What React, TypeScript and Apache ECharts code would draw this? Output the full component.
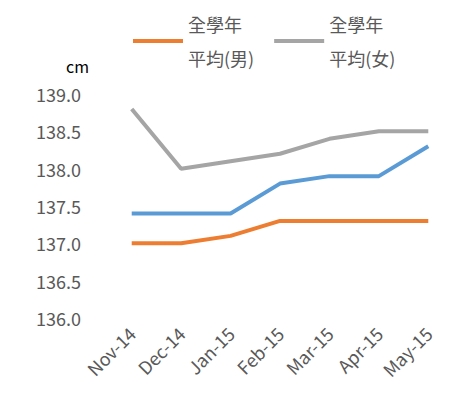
import React, { useEffect, useRef } from "react";
import * as echarts from "echarts";

const categories = ["Nov-14", "Dec-14", "Jan-15", "Feb-15", "Mar-15", "Apr-15", "May-15"];
const boys = [137.0, 137.0, 137.1, 137.3, 137.3, 137.3, 137.3];
const girls = [138.8, 138.0, 138.1, 138.2, 138.4, 138.5, 138.5];
const blue = [137.4, 137.4, 137.4, 137.8, 137.9, 137.9, 138.3];

const font = "'Noto Sans CJK TC', 'Noto Sans', sans-serif";

const App: React.FC = () => {
  const chartRef = useRef<HTMLDivElement>(null);

  useEffect(() => {
    if (!chartRef.current) return;
    const chart = echarts.init(chartRef.current, undefined, { renderer: "svg" });
    chart.setOption({
      animation: false,
      textStyle: { fontFamily: font },
      legend: {
        top: 2,
        left: 128,
        itemWidth: 50,
        itemHeight: 4,
        itemGap: 20,
        icon: "rect",
        data: ["全學年\n平均(男)", "全學年\n平均(女)"],
        textStyle: { fontSize: 18, color: "#595959", lineHeight: 34, fontFamily: font },
      },
      grid: { left: 107, right: 19, top: 94, bottom: 98 },
      xAxis: {
        type: "category",
        data: categories,
        axisLine: { show: false },
        axisTick: { show: false },
        axisLabel: { rotate: 45, fontSize: 18, color: "#595959", margin: 12 },
      },
      yAxis: {
        type: "value",
        name: "cm",
        nameLocation: "end",
        nameGap: 20,
        nameTextStyle: { fontSize: 16, color: "#000", align: "right", padding: [0, 18, 0, 0] },
        min: 136,
        max: 139,
        interval: 0.5,
        splitLine: { show: false },
        axisLabel: { fontSize: 18, color: "#595959", margin: 26, formatter: (v: number) => v.toFixed(1) },
      },
      series: [
        { name: "全學年\n平均(男)", type: "line", data: boys, symbol: "none", lineStyle: { width: 4, color: "#ED7D31" }, itemStyle: { color: "#ED7D31" } },
        { name: "全學年\n平均(女)", type: "line", data: girls, symbol: "none", lineStyle: { width: 4, color: "#A5A5A5" }, itemStyle: { color: "#A5A5A5" } },
        { name: "blue", type: "line", data: blue, symbol: "none", lineStyle: { width: 4, color: "#5B9BD5" }, itemStyle: { color: "#5B9BD5" } },
      ],
    });
    return () => chart.dispose();
  }, []);

  return <div ref={chartRef} style={{ width: 472, height: 416, margin: -8 }} />;
};

export default App;
